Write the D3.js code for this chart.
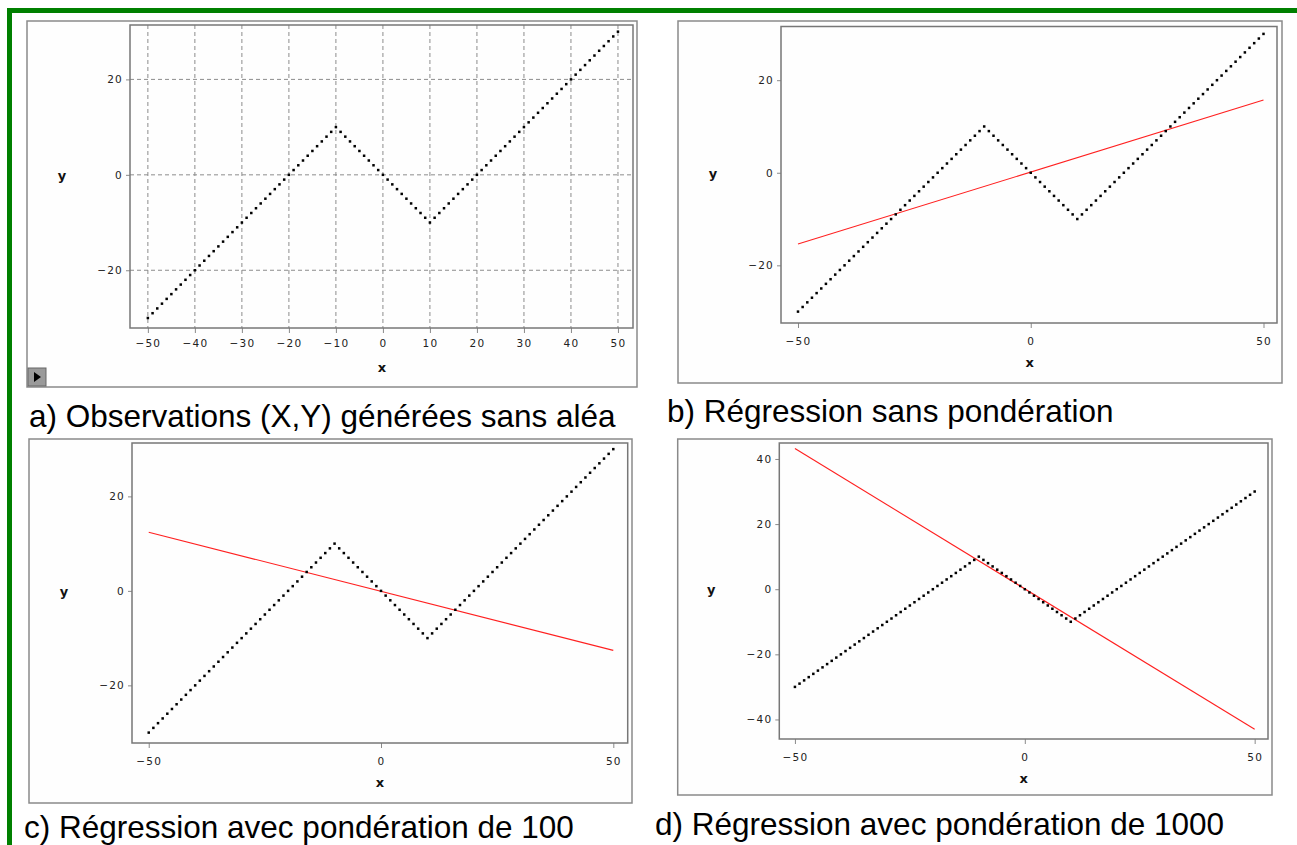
<!DOCTYPE html>
<html><head><meta charset="utf-8">
<script src="https://cdn.jsdelivr.net/npm/d3@7"></script>
<style>
html,body{margin:0;padding:0;background:#fff;}
svg{display:block;}
</style></head>
<body>
<svg id="c" width="1297" height="845"></svg>
<script>
// ---- data ----
const xValues = [-50,-49,-48,-47,-46,-45,-44,-43,-42,-41,-40,-39,-38,-37,-36,-35,-34,-33,-32,-31,-30,-29,-28,-27,-26,-25,-24,-23,-22,-21,-20,-19,-18,-17,-16,-15,-14,-13,-12,-11,-10,-9,-8,-7,-6,-5,-4,-3,-2,-1,0,1,2,3,4,5,6,7,8,9,10,11,12,13,14,15,16,17,18,19,20,21,22,23,24,25,26,27,28,29,30,31,32,33,34,35,36,37,38,39,40,41,42,43,44,45,46,47,48,49,50];
const yValues = [-30,-29,-28,-27,-26,-25,-24,-23,-22,-21,-20,-19,-18,-17,-16,-15,-14,-13,-12,-11,-10,-9,-8,-7,-6,-5,-4,-3,-2,-1,0,1,2,3,4,5,6,7,8,9,10,9,8,7,6,5,4,3,2,1,0,-1,-2,-3,-4,-5,-6,-7,-8,-9,-10,-9,-8,-7,-6,-5,-4,-3,-2,-1,0,1,2,3,4,5,6,7,8,9,10,11,12,13,14,15,16,17,18,19,20,21,22,23,24,25,26,27,28,29,30];
const lineX = [-50, 50];
const regNone = [-15.4, 15.7];
const reg100 = [12.4, -12.6];
const reg1000 = [43.2, -43.0];
const xTicksA = [-50,-40,-30,-20,-10,0,10,20,30,40,50];
const xTicksB = [-50,0,50];
const yTicks20 = [-20,0,20];
const yTicks40 = [-40,-20,0,20,40];
const captions = ["a) Observations (X,Y) générées sans aléa","b) Régression sans pondération","c) Régression avec pondération de 100","d) Régression avec pondération de 1000"];

// ---- layout ----
const panels = [
  {outer:[27,21,637,387], plot:[130,25,633,328], xd:[-53.8,53.2], yd:[-32.1,31.4], xt:xTicksA, yt:yTicks20, grid:true, reg:null, cap:[29,427], btn:true},
  {outer:[678,21,1282,383], plot:[781,26.5,1277,323], xd:[-53.65,52.9], yd:[-32.46,31.6], xt:xTicksB, yt:yTicks20, grid:false, reg:regNone, cap:[667,422]},
  {outer:[29,439,632,803], plot:[132,443,627.7,743], xd:[-53.6,53.1], yd:[-32.2,31.3], xt:xTicksB, yt:yTicks20, grid:false, reg:reg100, cap:[24,838]},
  {outer:[677.7,439,1272,795], plot:[779.3,443,1268,739], xd:[-53.4,52.9], yd:[-46,44.9], xt:xTicksB, yt:yTicks40, grid:false, reg:reg1000, cap:[655,835]}
];

const svg = d3.select("#c");
svg.append("rect").attr("width",1297).attr("height",845).attr("fill","#fff");
// green frame
svg.append("rect").attr("x",7).attr("y",8).attr("width",1290).attr("height",5).attr("fill","#008000");
svg.append("rect").attr("x",7).attr("y",8).attr("width",5).attr("height",837).attr("fill","#008000");

const fmt = d3.format("");
const pts = xValues.map((x,i)=>({x, y:yValues[i]}));

panels.forEach((p,pi)=>{
  const g = svg.append("g");
  const [ox0,oy0,ox1,oy1] = p.outer;
  g.append("rect").attr("x",ox0).attr("y",oy0).attr("width",ox1-ox0).attr("height",oy1-oy0)
    .attr("fill","#fefefe").attr("stroke","#8a8a8a").attr("stroke-width",1.5);
  const [px0,py0,px1,py1] = p.plot;
  const x = d3.scaleLinear().domain(p.xd).range([px0,px1]);
  const y = d3.scaleLinear().domain(p.yd).range([py1,py0]);

  if (p.grid) {
    g.append("g").selectAll("line").data(p.xt).join("line")
      .attr("x1",d=>x(d)).attr("x2",d=>x(d)).attr("y1",py0).attr("y2",py1)
      .attr("stroke","#8c8c8c").attr("stroke-dasharray","4,3").attr("stroke-width",1);
    g.append("g").selectAll("line").data(p.yt).join("line")
      .attr("y1",d=>y(d)).attr("y2",d=>y(d)).attr("x1",px0).attr("x2",px1)
      .attr("stroke","#8c8c8c").attr("stroke-dasharray","4,3").attr("stroke-width",1);
  }

  // axes
  const xAxis = d3.axisBottom(x).tickValues(p.xt).tickSize(5).tickPadding(p.grid?7:10).tickFormat(fmt);
  const yAxis = d3.axisLeft(y).tickValues(p.yt).tickSize(4).tickPadding(3).tickFormat(fmt);
  const gx = g.append("g").attr("transform",`translate(0,${py1})`).call(xAxis);
  const gy = g.append("g").attr("transform",`translate(${px0},0)`).call(yAxis);
  [gx,gy].forEach(a=>{
    a.select(".domain").remove();
    a.selectAll(".tick line").attr("stroke","#8a8a8a");
    a.selectAll(".tick text").attr("fill","#222").style("font-family","DejaVu Sans")
      .style("font-size","10.5px").style("letter-spacing","1.2px");
  });

  // plot frame
  g.append("rect").attr("x",px0).attr("y",py0).attr("width",px1-px0).attr("height",py1-py0)
    .attr("fill","none").attr("stroke","#777").attr("stroke-width",1.5);

  // regression line
  if (p.reg) {
    const ld = lineX.map((xx,i)=>({x:xx,y:p.reg[i]}));
    g.append("path").datum(ld)
      .attr("d", d3.line().x(d=>x(d.x)).y(d=>y(d.y)))
      .attr("fill","none").attr("stroke","#ff2020").attr("stroke-width",1.1);
  }

  // observations
  g.append("g").selectAll("rect").data(pts).join("rect")
    .attr("x",d=>x(d.x)-1.25).attr("y",d=>y(d.y)-1.25).attr("width",2.5).attr("height",2.5)
    .attr("fill","#000");

  // axis titles
  g.append("text").attr("x",x(0)-1).attr("y",py1+44).attr("text-anchor","middle")
    .style("font-family","DejaVu Sans").style("font-weight","bold").style("font-size","13px").attr("fill","#111").text("x");
  g.append("text").attr("x",px0-68).attr("y",y(0)+5).attr("text-anchor","middle")
    .style("font-family","DejaVu Sans").style("font-weight","bold").style("font-size","13px").attr("fill","#111").text("y");

  // play button
  if (p.btn) {
    g.append("rect").attr("x",ox0+1).attr("y",oy1-19).attr("width",18).attr("height",18)
      .attr("fill","#9a9a9a").attr("stroke","#666").attr("stroke-width",1);
    g.append("path").attr("d",`M${ox0+7},${oy1-15} L${ox0+14},${oy1-10} L${ox0+7},${oy1-5} Z`).attr("fill","#000");
  }

  // caption
  svg.append("text").attr("x",p.cap[0]).attr("y",p.cap[1])
    .style("font-family","Liberation Sans, Arial").style("font-size","31.5px").attr("fill","#000")
    .text(captions[pi]);
});
</script>
</body></html>
